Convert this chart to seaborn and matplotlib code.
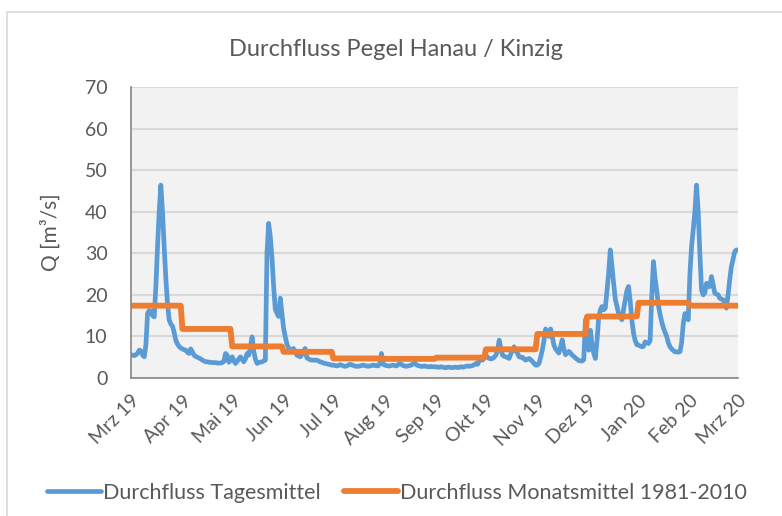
import numpy as np
import pandas as pd
import seaborn as sns
import matplotlib.pyplot as plt
from matplotlib.patches import Rectangle

# daily means (Tagesmittel), one list per month
mar19 = [5.5, 5.5, 5.4, 5.6, 6.0, 6.7, 6.5, 5.5, 5.1, 8.0, 15.6, 16.2, 16.0, 15.0, 14.7, 22.0,
         31.6, 40.0, 46.4, 40.0, 31.6, 24.0, 18.0, 14.0, 13.0, 12.5, 11.0, 9.1, 8.2, 7.6, 7.2]
apr19 = [7.0, 6.8, 6.7, 6.2, 5.9, 7.0, 6.3, 5.5, 5.2, 5.0, 4.8, 4.6, 4.3, 4.1, 3.9, 3.9,
         3.8, 3.8, 3.7, 3.7, 3.7, 3.6, 3.6, 3.6, 3.7, 4.0, 5.9, 5.5, 3.8, 4.2]
mai19 = [5.1, 4.2, 3.5, 4.0, 4.6, 5.1, 4.5, 3.9, 4.6, 5.9, 5.5, 7.5, 9.9, 6.5, 4.5, 3.5,
         3.7, 3.8, 3.9, 4.1, 4.3, 30.0, 37.2, 34.0, 29.0, 22.0, 16.5, 15.6, 14.8, 19.2, 15.5]
jun19 = [12.0, 9.9, 8.2, 7.2, 6.7, 6.9, 7.1, 6.3, 5.5, 5.3, 5.1, 5.6, 6.5, 7.1, 4.9, 4.6,
         4.4, 4.3, 4.3, 4.3, 4.3, 4.1, 3.9, 3.8, 3.6, 3.5, 3.4, 3.3, 3.2, 3.1]
jul19 = [3.1, 3.0, 2.9, 3.0, 3.2, 3.1, 2.9, 2.8, 2.9, 3.1, 3.3, 3.2, 3.0, 2.9, 2.8, 2.8,
         2.9, 3.0, 3.1, 3.0, 2.9, 2.8, 2.9, 3.0, 3.1, 3.0, 3.0, 2.9, 3.4, 5.9, 3.3]
aug19 = [3.1, 3.0, 2.9, 2.9, 3.0, 3.1, 3.0, 2.9, 3.2, 3.5, 3.3, 3.0, 2.9, 2.8, 2.9, 3.0,
         3.1, 3.4, 3.6, 3.2, 3.0, 2.9, 2.8, 2.8, 2.9, 2.8, 2.7, 2.7, 2.8, 2.7, 2.7]
sep19 = [2.7, 2.6, 2.6, 2.7, 2.6, 2.5, 2.5, 2.6, 2.6, 2.5, 2.5, 2.6, 2.6, 2.5, 2.6, 2.7,
         2.6, 2.7, 2.8, 2.9, 2.8, 2.9, 3.0, 3.2, 3.5, 3.3, 4.1, 4.7, 4.3, 4.8]
okt19 = [5.5, 5.0, 4.7, 4.6, 4.7, 5.0, 5.5, 6.5, 9.1, 7.0, 5.5, 5.2, 5.1, 4.9, 4.7, 5.8,
         6.8, 7.5, 6.5, 6.0, 5.1, 5.0, 5.0, 4.6, 4.3, 4.5, 4.7, 4.4, 4.0, 3.5, 3.1]
nov19 = [3.1, 3.5, 5.0, 6.7, 9.0, 11.8, 11.0, 10.0, 11.8, 10.0, 7.9, 7.0, 6.5, 6.0, 7.5, 9.2,
         7.0, 5.6, 6.0, 6.4, 6.0, 5.5, 5.2, 4.8, 4.5, 4.2, 4.1, 4.1, 4.4, 14.0]
dez19 = [9.1, 6.7, 11.5, 8.0, 6.0, 4.7, 9.0, 14.5, 16.4, 17.2, 16.4, 16.8, 21.0, 25.2, 30.8, 27.0,
         22.8, 19.0, 17.2, 15.5, 14.5, 14.0, 16.5, 18.8, 21.0, 22.0, 18.5, 14.0, 10.8, 9.0, 8.0]
jan20 = [7.9, 7.7, 7.5, 7.6, 8.7, 8.5, 8.3, 9.0, 19.6, 28.0, 24.0, 21.0, 17.5, 15.3, 13.5, 12.1,
         11.0, 10.0, 8.5, 7.5, 7.0, 6.6, 6.3, 6.3, 6.2, 6.3, 8.5, 13.1, 15.5, 14.8, 14.0]
feb20 = [25.0, 31.6, 35.6, 40.0, 46.4, 40.0, 30.0, 21.2, 20.0, 20.5, 22.8, 22.0, 22.0, 24.4, 22.5,
         20.4, 20.2, 20.0, 19.2, 19.0, 18.8, 18.0, 16.8, 20.0, 23.6, 26.8, 28.5, 30.4, 30.8]
mar20 = [30.8]

# long-term monthly means 1981-2010 (Mrz .. Feb, then Mrz again)
monthly_mean = [17.4, 11.8, 7.6, 6.3, 4.7, 4.6, 4.9, 6.9, 10.6, 14.8, 18.1, 17.4, 17.4]

tick_labels = ['Mrz 19', 'Apr 19', 'Mai 19', 'Jun 19', 'Jul 19', 'Aug 19', 'Sep 19',
               'Okt 19', 'Nov 19', 'Dez 19', 'Jan 20', 'Feb 20', 'Mrz 20']

months = [mar19, apr19, mai19, jun19, jul19, aug19, sep19, okt19, nov19, dez19, jan20, feb20, mar20]
daily = np.concatenate(months)
dates = pd.date_range('2019-03-01', periods=len(daily), freq='D')
month_mean_daily = np.repeat(monthly_mean, [len(m) for m in months])

df = pd.DataFrame({'Datum': dates, 'Tag': daily, 'Monat': month_mean_daily})

sns.set_style('white')
plt.rcParams['font.family'] = ['Lato', 'DejaVu Sans']
txt = '#595959'

fig = plt.figure(figsize=(7.82, 5.16), dpi=100)
fig.patches.append(Rectangle((7 / 782, -0.1), 1.1, (516 - 12) / 516 + 0.1,
                             transform=fig.transFigure, fill=False,
                             edgecolor='#D9D9D9', lw=1.2))
ax = fig.add_axes([131 / 782, 1 - 378 / 516, (738 - 131) / 782, (378 - 87) / 516])
ax.set_facecolor('#F2F2F2')

sns.lineplot(data=df, x='Datum', y='Tag', ax=ax, color='#5B9BD5', lw=3.4,
             label='Durchfluss Tagesmittel', legend=False)
sns.lineplot(data=df, x='Datum', y='Monat', ax=ax, color='#ED7D31', lw=4.2,
             label='Durchfluss Monatsmittel 1981-2010', legend=False)

ax.set_ylim(0, 70)
ax.set_yticks(range(0, 71, 10))
ax.set_xlim(dates[0], dates[-1])
ticks = pd.date_range('2019-03-01', '2020-03-01', freq='MS')
ax.set_xticks(ticks)
ax.set_xticklabels(tick_labels, rotation=45, ha='right', rotation_mode='anchor')
ax.grid(axis='y', color='#D9D9D9', lw=1.5)
ax.set_axisbelow(True)

for s in ['top', 'right']:
    ax.spines[s].set_visible(False)
for s in ['left', 'bottom']:
    ax.spines[s].set_color('#868686')
    ax.spines[s].set_linewidth(1.2)
ax.tick_params(axis='both', colors='#868686', labelcolor=txt, labelsize=14,
               length=5, width=1.2, direction='out')
ax.tick_params(axis='y', pad=12)
ax.tick_params(axis='x', pad=5)

ax.set_xlabel('')
ax.set_ylabel('Q [m³/s]', fontsize=15, color=txt, labelpad=17)
fig.text(396 / 782, 1 - 50 / 516, 'Durchfluss Pegel Hanau / Kinzig', ha='center',
         va='center', fontsize=17, color=txt)

handles, labels = ax.get_legend_handles_labels()
fig.legend(handles, labels, loc='center', bbox_to_anchor=(397 / 782, 1 - 493 / 516),
           ncol=2, frameon=False, fontsize=15.5, labelcolor=txt, handlelength=2.5,
           handletextpad=0.1, columnspacing=1.1)

fig.savefig('out.png', dpi=100)
